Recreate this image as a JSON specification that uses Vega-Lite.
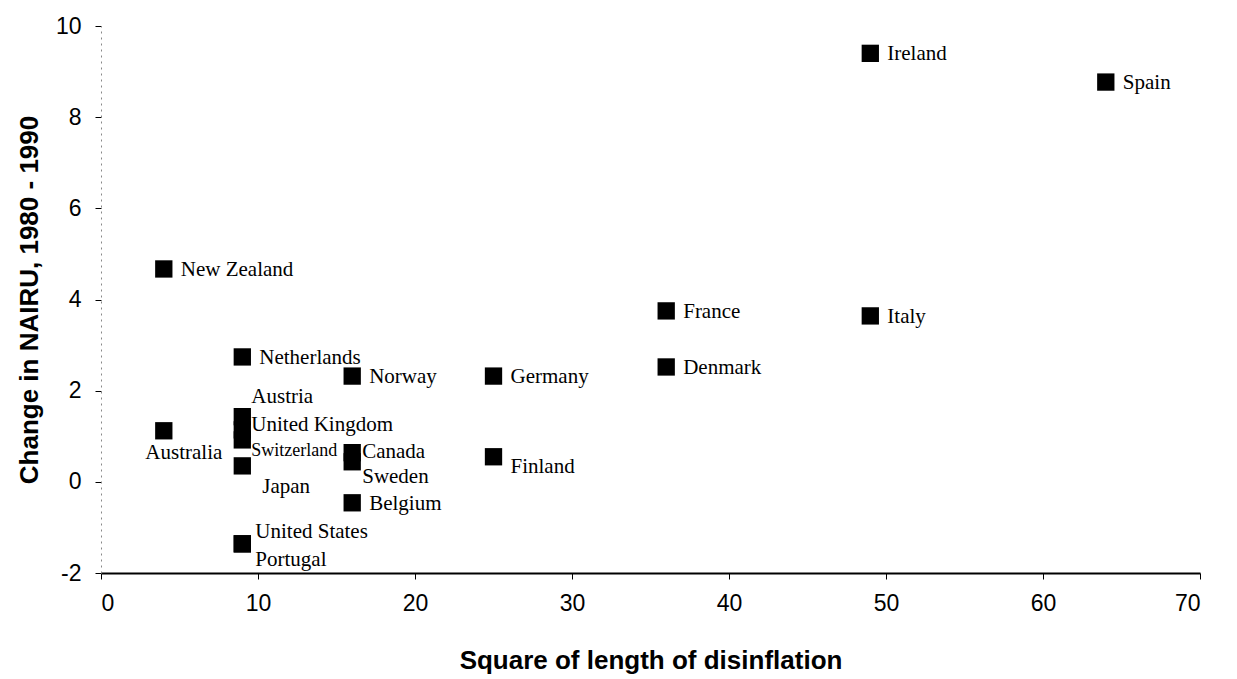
{
  "$schema": "https://vega.github.io/schema/vega-lite/v6.json",
  "autosize": {"type": "none"},
  "width": 1099,
  "height": 547,
  "padding": {"left": 101, "top": 26, "right": 37, "bottom": 106},
  "background": "white",
  "config": {"view": {"stroke": null}},
  "data": {"values": [
    {"country": "Ireland", "sq": 49, "nairu": 9.4},
    {"country": "Spain", "sq": 64, "nairu": 8.77},
    {"country": "New Zealand", "sq": 4, "nairu": 4.67},
    {"country": "France", "sq": 36, "nairu": 3.75},
    {"country": "Italy", "sq": 49, "nairu": 3.64},
    {"country": "Denmark", "sq": 36, "nairu": 2.52},
    {"country": "Netherlands", "sq": 9, "nairu": 2.74},
    {"country": "Norway", "sq": 16, "nairu": 2.32},
    {"country": "Germany", "sq": 25, "nairu": 2.32},
    {"country": "Australia", "sq": 4, "nairu": 1.12},
    {"country": "Austria", "sq": 9, "nairu": 1.43},
    {"country": "United Kingdom", "sq": 9, "nairu": 1.14},
    {"country": "Switzerland", "sq": 9, "nairu": 0.92},
    {"country": "Japan", "sq": 9, "nairu": 0.35},
    {"country": "Canada", "sq": 16, "nairu": 0.64},
    {"country": "Sweden", "sq": 16, "nairu": 0.44},
    {"country": "Finland", "sq": 25, "nairu": 0.55},
    {"country": "Belgium", "sq": 16, "nairu": -0.46},
    {"country": "United States", "sq": 9, "nairu": -1.36},
    {"country": "Portugal", "sq": 9, "nairu": -1.36}
  ]},
  "encoding": {
    "x": {"field": "sq", "type": "quantitative",
      "scale": {"domain": [0, 70], "nice": false, "zero": false},
      "axis": {"title": "Square of length of disinflation", "values": [0,10,20,30,40,50,60,70],
        "grid": false, "domainColor": "black", "domainWidth": 2, "tickColor": "black", "tickSize": 6, "tickWidth": 1,
        "labelFont": "Liberation Sans", "labelFontSize": 23, "labelColor": "black", "labelPadding": 13,
        "titleFont": "Liberation Sans", "titleFontSize": 26, "titleFontWeight": "bold", "titleColor": "black", "titlePadding": 32}},
    "y": {"field": "nairu", "type": "quantitative",
      "scale": {"domain": [-2, 10], "nice": false, "zero": false},
      "axis": {"title": "Change in NAIRU, 1980 - 1990", "values": [-2,0,2,4,6,8,10], "labelExpr": "'' + datum.value",
        "grid": false, "domainColor": "#888", "domainDash": [2, 4], "domainWidth": 1, "tickColor": "black", "tickSize": 6,
        "labelFont": "Liberation Sans", "labelFontSize": 23, "labelColor": "black", "labelPadding": 14,
        "titleFont": "Liberation Sans", "titleFontSize": 26, "titleFontWeight": "bold", "titleColor": "black", "titlePadding": 13}}
  },
  "layer": [
    {"mark": {"type": "point", "shape": "square", "filled": true, "color": "black", "size": 300, "opacity": 1}},
    {"transform": [{"filter": {"field": "country", "oneOf": ["Ireland","Spain","New Zealand","France","Italy","Denmark","Netherlands","Norway","Germany","Belgium"]}}],
     "mark": {"type": "text", "align": "left", "baseline": "middle", "dx": 17, "dy": 1, "font": "Liberation Serif", "fontSize": 21, "color": "black"},
     "encoding": {"text": {"field": "country"}}},
    {"transform": [{"filter": {"field": "country", "equal": "Finland"}}],
     "mark": {"type": "text", "align": "left", "baseline": "middle", "dx": 17, "dy": 10, "font": "Liberation Serif", "fontSize": 21, "color": "black"},
     "encoding": {"text": {"field": "country"}}},
    {"transform": [{"filter": {"field": "country", "equal": "Australia"}}],
     "mark": {"type": "text", "align": "center", "baseline": "middle", "dx": 20, "dy": 22, "font": "Liberation Serif", "fontSize": 21, "color": "black"},
     "encoding": {"text": {"field": "country"}}},
    {"transform": [{"filter": {"field": "country", "equal": "Austria"}}],
     "mark": {"type": "text", "align": "left", "baseline": "middle", "dx": 9, "dy": -20, "font": "Liberation Serif", "fontSize": 21, "color": "black"},
     "encoding": {"text": {"field": "country"}}},
    {"transform": [{"filter": {"field": "country", "equal": "United Kingdom"}}],
     "mark": {"type": "text", "align": "left", "baseline": "middle", "dx": 9, "dy": -5, "font": "Liberation Serif", "fontSize": 21, "color": "black"},
     "encoding": {"text": {"field": "country"}}},
    {"transform": [{"filter": {"field": "country", "equal": "Switzerland"}}],
     "mark": {"type": "text", "align": "left", "baseline": "middle", "dx": 9, "dy": 11, "font": "Liberation Serif", "fontSize": 18, "color": "black"},
     "encoding": {"text": {"field": "country"}}},
    {"transform": [{"filter": {"field": "country", "equal": "Japan"}}],
     "mark": {"type": "text", "align": "left", "baseline": "middle", "dx": 20, "dy": 21, "font": "Liberation Serif", "fontSize": 21, "color": "black"},
     "encoding": {"text": {"field": "country"}}},
    {"transform": [{"filter": {"field": "country", "equal": "Canada"}}],
     "mark": {"type": "text", "align": "left", "baseline": "middle", "dx": 10, "dy": -1, "font": "Liberation Serif", "fontSize": 21, "color": "black"},
     "encoding": {"text": {"field": "country"}}},
    {"transform": [{"filter": {"field": "country", "equal": "Sweden"}}],
     "mark": {"type": "text", "align": "left", "baseline": "middle", "dx": 10, "dy": 15, "font": "Liberation Serif", "fontSize": 21, "color": "black"},
     "encoding": {"text": {"field": "country"}}},
    {"transform": [{"filter": {"field": "country", "equal": "United States"}}],
     "mark": {"type": "text", "align": "left", "baseline": "middle", "dx": 13, "dy": -12, "font": "Liberation Serif", "fontSize": 21, "color": "black"},
     "encoding": {"text": {"field": "country"}}},
    {"transform": [{"filter": {"field": "country", "equal": "Portugal"}}],
     "mark": {"type": "text", "align": "left", "baseline": "middle", "dx": 13, "dy": 16, "font": "Liberation Serif", "fontSize": 21, "color": "black"},
     "encoding": {"text": {"field": "country"}}}
  ]
}
